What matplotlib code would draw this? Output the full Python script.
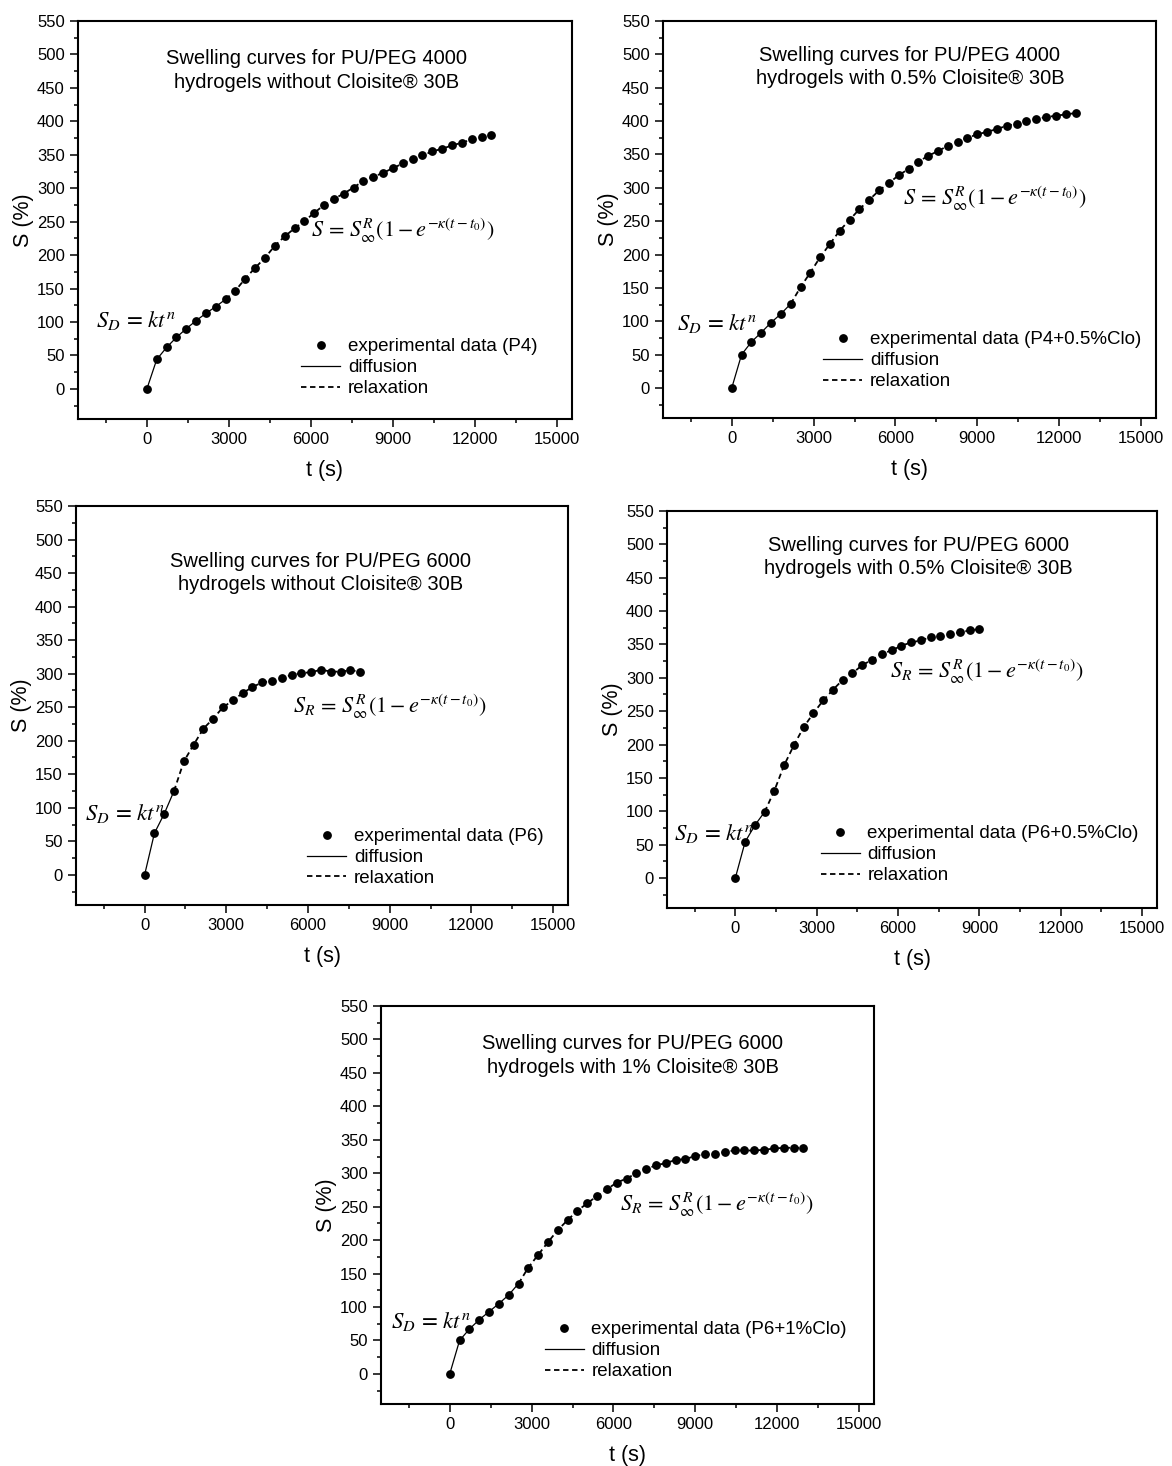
import numpy as np
import matplotlib
matplotlib.use("Agg")
import matplotlib.pyplot as plt
from matplotlib.ticker import MultipleLocator

plt.rcParams['font.family'] = ['Liberation Sans', 'DejaVu Sans']
plt.rcParams['mathtext.fontset'] = 'stix'

# sampling time (s), one reading every 6 min
t_step = 360

# swelling degree S (%) for each sample
s_p4 = [0, 44, 62, 77, 90, 102, 113, 123, 134, 147, 165, 181, 196, 214, 228, 240,
        251, 263, 275, 284, 292, 301, 311, 317, 323, 330, 337, 343, 349, 355, 359,
        364, 368, 373, 376, 379]
s_p4_clo = [0, 50, 69, 83, 98, 111, 126, 151, 173, 196, 216, 236, 252, 268, 282, 296,
            307, 319, 328, 339, 348, 355, 363, 369, 375, 380, 384, 388, 393, 396, 400,
            403, 406, 408, 410, 412]
s_p6 = [0, 62, 91, 125, 169, 194, 218, 233, 250, 260, 271, 280, 287, 289, 294, 298,
        301, 302, 306, 303, 303, 305, 303]
s_p6_05clo = [0, 54, 79, 99, 131, 169, 199, 226, 247, 266, 282, 297, 307, 319, 327, 336,
              341, 348, 353, 356, 361, 363, 366, 368, 371, 373]
s_p6_1clo = [0, 50, 67, 81, 93, 105, 118, 135, 159, 178, 197, 215, 230, 244, 255, 266,
             276, 286, 292, 300, 306, 312, 315, 320, 321, 326, 328, 328, 332, 334, 334,
             334, 335, 337, 338, 338, 338]

# index of the point where diffusion hands over to relaxation
split_idx = [8, 6, 3, 3, 7]

titles = ["Swelling curves for PU/PEG 4000\nhydrogels without Cloisite\u00ae 30B",
          "Swelling curves for PU/PEG 4000\nhydrogels with 0.5% Cloisite\u00ae 30B",
          "Swelling curves for PU/PEG 6000\nhydrogels without Cloisite\u00ae 30B",
          "Swelling curves for PU/PEG 6000\nhydrogels with 0.5% Cloisite\u00ae 30B",
          "Swelling curves for PU/PEG 6000\nhydrogels with 1% Cloisite\u00ae 30B"]
labels = ["experimental data (P4)", "experimental data (P4+0.5%Clo)",
          "experimental data (P6)", "experimental data (P6+0.5%Clo)",
          "experimental data (P6+1%Clo)"]
eq_relax = [r"$S\,=\,S_{\infty}^{R}\left(1-e^{-\kappa(t-t_0)}\right)$",
            r"$S\,=\,S_{\infty}^{R}\left(1-e^{-\kappa(t-t_0)}\right)$",
            r"$S_R\,=\,S_{\infty}^{R}\left(1-e^{-\kappa(t-t_0)}\right)$",
            r"$S_R\,=\,S_{\infty}^{R}\left(1-e^{-\kappa(t-t_0)}\right)$",
            r"$S_R\,=\,S_{\infty}^{R}\left(1-e^{-\kappa(t-t_0)}\right)$"]
series = [s_p4, s_p4_clo, s_p6, s_p6_05clo, s_p6_1clo]

W, H = 1172, 1466
# axes boxes in pixels: left, top, right, bottom
boxes = [(78, 21, 572, 419), (663, 21, 1156, 418),
         (76, 506, 568, 905), (667, 511, 1157, 908),
         (381, 1006, 874, 1404)]
title_pos = [(6200, 476), (6530, 481), (6450, 450), (6740, 481), (6700, 476)]
sd_pos = [(-1860, 102), (-1990, 97), (-2200, 91), (-2270, 67), (-2140, 78)]
sr_pos = [(5990, 237), (6290, 284), (5450, 251), (5710, 309), (6250, 253)]
leg_anchor = [(0.93, 0.055), (0.97, 0.07), (0.95, 0.045), (0.963, 0.06), (0.945, 0.06)]

fig = plt.figure(figsize=(W / 100, H / 100), dpi=100)

for i in range(5):
    l, t, r, b = boxes[i]
    ax = fig.add_axes([l / W, 1 - b / H, (r - l) / W, (b - t) / H])
    s = np.array(series[i])
    tt = np.arange(len(s)) * t_step
    k = split_idx[i]

    ax.plot(tt, s, 'o', color='black', markersize=5.3, label=labels[i], zorder=3)
    ax.plot(tt[:k + 1], s[:k + 1], '-', color='black', lw=0.9, label='diffusion')
    ax.plot(tt[k:], s[k:], color='black', lw=1.3, ls=(0, (3, 2)), label='relaxation')

    ax.set_xlim(-2520, 15550)
    ax.set_ylim(-45, 550)
    ax.xaxis.set_minor_locator(MultipleLocator(1500))
    ax.yaxis.set_minor_locator(MultipleLocator(25))
    ax.set_xticks([0, 3000, 6000, 9000, 12000, 15000])
    ax.set_yticks(np.arange(0, 551, 50))
    ax.tick_params(which='both', direction='out', top=False, right=False,
                   labelsize=12, pad=4)
    ax.tick_params(which='major', length=5.5, width=1.1)
    ax.tick_params(which='minor', length=3, width=1.1)
    for sp in ax.spines.values():
        sp.set_linewidth(1.5)

    ax.set_xlabel('t (s)', fontsize=15.5, labelpad=9)
    ax.set_ylabel('S (%)', fontsize=15.5, labelpad=2)

    ax.text(title_pos[i][0], title_pos[i][1], titles[i], ha='center', va='center',
            fontsize=14.5, linespacing=1.3)
    ax.text(sd_pos[i][0], sd_pos[i][1], r"$S_D\,=\,kt^n$", ha='left', va='center',
            fontsize=16.5)
    ax.text(sr_pos[i][0], sr_pos[i][1], eq_relax[i], ha='left', va='center',
            fontsize=16)

    ax.legend(loc='lower right', bbox_to_anchor=leg_anchor[i], frameon=False,
              fontsize=13.5, handlelength=2.1, handletextpad=0.4, labelspacing=0.2,
              borderaxespad=0, borderpad=0)

fig.savefig('out.png', dpi=100)
